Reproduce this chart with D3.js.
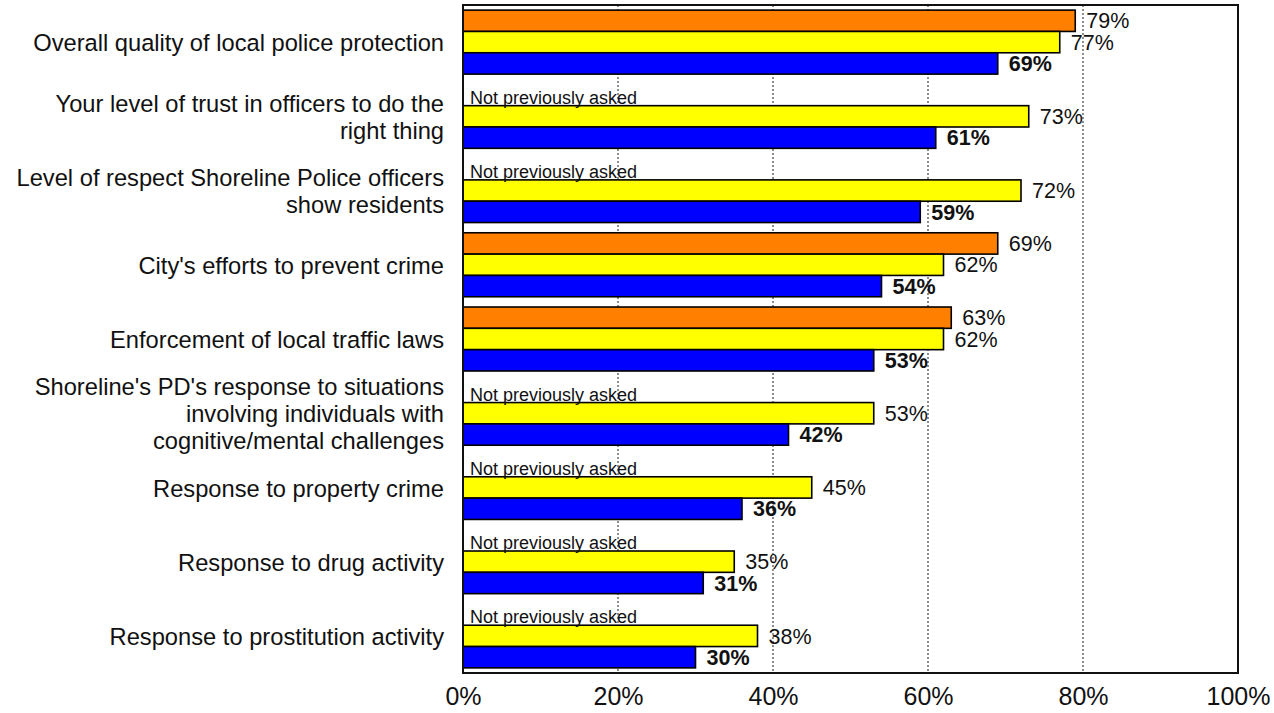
<!DOCTYPE html>
<html><head><meta charset="utf-8">
<script src="https://cdn.jsdelivr.net/npm/d3@7"></script>
<style>
body{margin:0;background:#fff}
svg{display:block;font-family:"Liberation Sans",Arial,sans-serif}
</style>
</head><body>
<svg id="chart" width="1274" height="713"></svg>
<script>
const categories = [
  "Overall quality of local police protection",
  "Your level of trust in officers to do the right thing",
  "Level of respect Shoreline Police officers show residents",
  "City's efforts to prevent crime",
  "Enforcement of local traffic laws",
  "Shoreline's PD's response to situations involving individuals with cognitive/mental challenges",
  "Response to property crime",
  "Response to drug activity",
  "Response to prostitution activity"
];
const categoryLines = [
  ["Overall quality of local police protection"],
  ["Your level of trust in officers to do the", "right thing"],
  ["Level of respect Shoreline Police officers", "show residents"],
  ["City's efforts to prevent crime"],
  ["Enforcement of local traffic laws"],
  ["Shoreline's PD's response to situations", "involving individuals with", "cognitive/mental challenges"],
  ["Response to property crime"],
  ["Response to drug activity"],
  ["Response to prostitution activity"]
];
const seriesKeys = ["earlier", "previous", "current"];
const seriesColors = ["#FF8000", "#FFFF00", "#0000FF"];
const earlier  = [79, null, null, 69, 63, null, null, null, null];
const previous = [77, 73, 72, 62, 62, 53, 45, 35, 38];
const current  = [69, 61, 59, 54, 53, 42, 36, 31, 30];
const xTicks = [0, 20, 40, 60, 80, 100];
const noteText = "Not previously asked";

const svg = d3.select("#chart");
const mLeft = 463, mTop = 5, plotW = 775, plotH = 668;

const x = d3.scaleLinear().domain([0, 100]).range([mLeft, mLeft + plotW]);
const y0 = d3.scaleBand().domain(categories).range([mTop, mTop + plotH]).padding(0);
const y1 = d3.scaleBand().domain(seriesKeys).range([0, y0.bandwidth()]).paddingInner(0).paddingOuter(0.24);
const color = d3.scaleOrdinal().domain(seriesKeys).range(seriesColors);

const seriesData = {earlier, previous, current};
const rows = categories.map((c, i) => ({cat: c, lines: categoryLines[i],
  vals: seriesKeys.map(k => ({key: k, v: seriesData[k][i]}))}));

// gridlines
svg.append("g").selectAll("line").data(xTicks.filter(t => t > 0 && t < 100)).join("line")
  .attr("x1", d => x(d)).attr("x2", d => x(d))
  .attr("y1", mTop).attr("y2", mTop + plotH)
  .attr("stroke", "#444").attr("stroke-width", 1.2).attr("stroke-dasharray", "2,2");

// bars
const g = svg.append("g").selectAll("g").data(rows).join("g")
  .attr("transform", d => `translate(0,${y0(d.cat)})`);

g.selectAll("rect").data(d => d.vals.filter(v => v.v != null)).join("rect")
  .attr("x", x(0)).attr("y", d => y1(d.key))
  .attr("width", d => x(d.v) - x(0)).attr("height", y1.bandwidth())
  .attr("fill", d => color(d.key)).attr("stroke", "#000").attr("stroke-width", 1.6);

g.selectAll("text.val").data(d => d.vals.filter(v => v.v != null)).join("text")
  .attr("class", "val")
  .attr("x", d => x(d.v) + 11).attr("y", d => y1(d.key) + y1.bandwidth() / 2 + 2)
  .attr("dominant-baseline", "middle")
  .attr("font-size", 21.5)
  .attr("font-weight", d => d.key === "current" ? "bold" : "normal")
  .attr("fill", "#111")
  .text(d => d.v + "%");

g.filter(d => d.vals[0].v == null).append("text")
  .attr("x", x(0) + 7).attr("y", y1("earlier") + y1.bandwidth() - 2)
  .attr("font-size", 18).attr("fill", "#111")
  .text(noteText);

// category labels
const lh = 27;
svg.append("g").selectAll("text").data(rows).join("text")
  .attr("text-anchor", "end").attr("font-size", 23.7).attr("fill", "#111")
  .attr("transform", d => `translate(444,${y0(d.cat) + y0.bandwidth() / 2 - (d.lines.length - 1) * lh / 2 + 3})`)
  .selectAll("tspan").data(d => d.lines).join("tspan")
  .attr("x", 0).attr("dy", (d, i) => i === 0 ? 0 : lh)
  .attr("dominant-baseline", "middle")
  .text(d => d);

// frame
svg.append("rect").attr("x", mLeft).attr("y", mTop).attr("width", plotW).attr("height", plotH)
  .attr("fill", "none").attr("stroke", "#111").attr("stroke-width", 2);

// x axis
const ax = svg.append("g").attr("transform", `translate(0,${mTop + plotH})`)
  .call(d3.axisBottom(x).tickValues(xTicks).tickSize(0).tickPadding(14).tickFormat(d => d + "%"));
ax.select(".domain").remove();
ax.selectAll("text").attr("font-size", 25).attr("fill", "#111").attr("font-family", "Liberation Sans, Arial, sans-serif");
</script>
</body></html>
